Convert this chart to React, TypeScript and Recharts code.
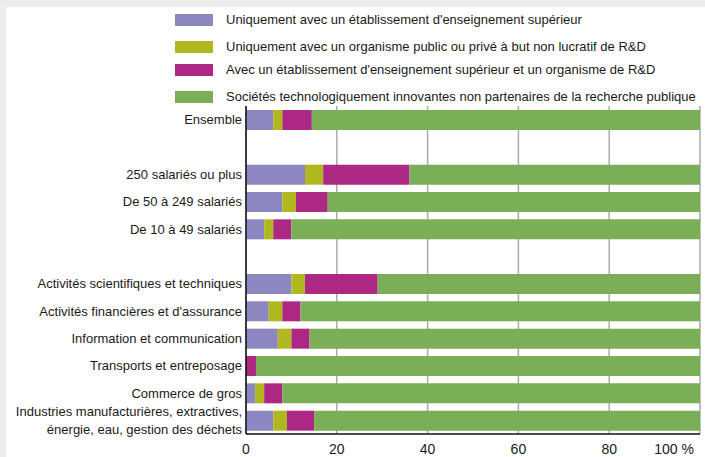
import { BarChart, Bar, XAxis, YAxis, CartesianGrid } from "recharts";

const categories = [
  "Ensemble",
  "",
  "250 salariés ou plus",
  "De 50 à 249 salariés",
  "De 10 à 49 salariés",
  "",
  "Activités scientifiques et techniques",
  "Activités financières et d'assurance",
  "Information et communication",
  "Transports et entreposage",
  "Commerce de gros",
  "Industries manufacturières, extractives,\nénergie, eau, gestion des déchets",
];

const enseignement = [6, null, 13, 8, 4, null, 10, 5, 7, 0, 2, 6];
const organisme = [2, null, 4, 3, 2, null, 3, 3, 3, 0, 2, 3];
const lesDeux = [6.5, null, 19, 7, 4, null, 16, 4, 4, 2.2, 4, 6];
const nonPartenaires = [85.5, null, 64, 82, 90, null, 71, 88, 86, 97.8, 92, 85];

const xTicks = [0, 20, 40, 60, 80, 100];

const series = [
  { key: "enseignement", label: "Uniquement avec un établissement d'enseignement supérieur", color: "#8d87c1" },
  { key: "organisme", label: "Uniquement avec un organisme public ou privé à but non lucratif de R&D", color: "#b0b81f" },
  { key: "lesDeux", label: "Avec un établissement d'enseignement supérieur et un organisme de R&D", color: "#ad2885" },
  { key: "nonPartenaires", label: "Sociétés technologiquement innovantes non partenaires de la recherche publique", color: "#7aaf57" },
];

const data = categories.map((name, i) => ({
  name,
  enseignement: enseignement[i],
  organisme: organisme[i],
  lesDeux: lesDeux[i],
  nonPartenaires: nonPartenaires[i],
}));

const legendTops = [14, 41, 64, 91];
const font = "'Liberation Sans', Arial, sans-serif";

const CategoryTick = (props: any) => {
  const { x, y, payload } = props;
  const lines: string[] = String(payload.value).split("\n");
  const lh = 18;
  const start = y + 4.5 - ((lines.length - 1) * lh) / 2;
  return (
    <text x={x} y={start} textAnchor="end" fontSize={13} fill="#1a1a1a" fontFamily={font}>
      {lines.map((l, i) => (
        <tspan key={i} x={x} dy={i === 0 ? 0 : lh}>
          {l}
        </tspan>
      ))}
    </text>
  );
};

const ValueTick = (props: any) => {
  const { x, y, payload } = props;
  const last = payload.value === 100;
  return (
    <text x={last ? x + 1 : x} y={y + 20} textAnchor={last ? "end" : "middle"} fontSize={14} fill="#1a1a1a" fontFamily={font}>
      {last ? "100 %" : payload.value}
    </text>
  );
};

export default function App() {
  return (
    <div style={{ position: "absolute", left: 0, top: 0, width: 705, height: 457, background: "#ececec", overflow: "hidden" }}>
      <div style={{ position: "absolute", left: 6, top: 7, width: 699, height: 450, background: "#fff" }} />
      {series.map((s, i) => (
        <div key={s.key} style={{ position: "absolute", left: 175, top: legendTops[i], height: 12, display: "flex", alignItems: "center" }}>
          <div style={{ width: 38, height: 12, background: s.color }} />
          <span style={{ marginLeft: 13, fontFamily: font, fontSize: 13, color: "#1a1a1a", whiteSpace: "nowrap", lineHeight: "12px" }}>{s.label}</span>
        </div>
      ))}
      <div style={{ position: "absolute", left: 0, top: 0 }}>
        <BarChart
          width={705}
          height={457}
          data={data}
          layout="vertical"
          margin={{ top: 106, right: 5, bottom: 0, left: 0 }}
          barSize={20}
        >
          <CartesianGrid vertical horizontal={false} stroke="#aaa" strokeWidth={1.5} />
          <XAxis
            type="number"
            domain={[0, 100]}
            ticks={xTicks}
            height={23}
            tickSize={0}
            tickMargin={0}
            tickLine={false}
            axisLine={{ stroke: "#111", strokeWidth: 1.5 }}
            tick={<ValueTick />}
          />
          <YAxis
            type="category"
            dataKey="name"
            width={246}
            tickSize={0}
            tickMargin={4}
            tickLine={false}
            axisLine={{ stroke: "#111", strokeWidth: 1.5 }}
            tick={<CategoryTick />}
            interval={0}
          />
          {series.map((s) => (
            <Bar key={s.key} dataKey={s.key} stackId="a" fill={s.color} isAnimationActive={false} />
          ))}
        </BarChart>
      </div>
    </div>
  );
}
